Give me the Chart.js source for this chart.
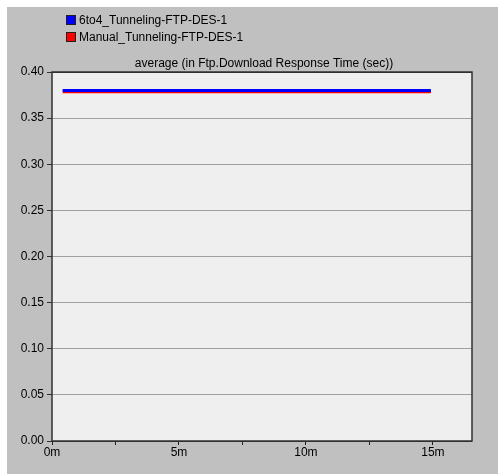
<!DOCTYPE html>
<html>
<head>
<meta charset="utf-8">
<script src="https://cdn.jsdelivr.net/npm/chart.js@4/dist/chart.umd.min.js"></script>
<style>
  html, body { margin: 0; padding: 0; background: #ffffff; }
  #wrap { width: 498px; height: 475px; position: relative; }
</style>
</head>
<body>
<div id="wrap"><canvas id="c" width="498" height="475"></canvas></div>
<script>
// Simulation time (minutes) at the start and end of each series
const timeMinutes = [0.42, 14.92];
// Average FTP download response time (sec)
const series6to4 = [0.3800, 0.3800];
const seriesManual = [0.3785, 0.3785];
const seriesNames = ['6to4_Tunneling-FTP-DES-1', 'Manual_Tunneling-FTP-DES-1'];
const seriesColors = ['#0000ff', '#ff0000'];
const chartTitle = 'average (in Ftp.Download Response Time (sec))';
const xTickLabels = { 0: '0m', 5: '5m', 10: '10m', 15: '15m' };

const FONT = '"Liberation Sans", Arial, sans-serif';

// Gray panel, plot background and plot frame
const framePlugin = {
  id: 'frame',
  beforeDraw(chart) {
    const ctx = chart.ctx;
    const a = chart.chartArea;
    ctx.save();
    ctx.fillStyle = '#ffffff';
    ctx.fillRect(0, 0, chart.width, chart.height);
    ctx.fillStyle = '#c0c0c0';
    ctx.fillRect(7, 7, chart.width - 7, 467);
    ctx.fillStyle = '#efefef';
    ctx.fillRect(a.left, a.top, a.right - a.left, a.bottom - a.top);
    ctx.restore();
  },
  afterDraw(chart) {
    const ctx = chart.ctx;
    const a = chart.chartArea;
    ctx.save();
    ctx.strokeStyle = '#303030';
    ctx.lineWidth = 1.5;
    ctx.strokeRect(a.left, a.top, a.right - a.left, a.bottom - a.top);
    // title
    ctx.fillStyle = '#000000';
    ctx.font = '12px ' + FONT;
    ctx.textAlign = 'center';
    ctx.textBaseline = 'alphabetic';
    ctx.fillText(chartTitle, (a.left + a.right) / 2 + 2, 67);
    // legend
    ctx.textAlign = 'left';
    ctx.textBaseline = 'middle';
    seriesNames.forEach((name, i) => {
      const y = 16 + i * 17;
      ctx.fillStyle = seriesColors[i];
      ctx.fillRect(67, y, 8, 8);
      ctx.strokeStyle = '#202020';
      ctx.lineWidth = 1;
      ctx.strokeRect(66.5, y - 0.5, 9, 9);
      ctx.fillStyle = '#000000';
      ctx.fillText(name, 79, y + 4.5);
    });
    ctx.restore();
  }
};

new Chart(document.getElementById('c'), {
  type: 'line',
  data: {
    datasets: [
      {
        label: seriesNames[0],
        data: timeMinutes.map((t, i) => ({ x: t, y: series6to4[i] })),
        borderColor: seriesColors[0],
        borderWidth: 3,
        borderCapStyle: 'butt',
        pointRadius: 0,
        tension: 0,
        order: 0
      },
      {
        label: seriesNames[1],
        data: timeMinutes.map((t, i) => ({ x: t, y: seriesManual[i] })),
        borderColor: seriesColors[1],
        borderWidth: 3,
        borderCapStyle: 'butt',
        pointRadius: 0,
        tension: 0,
        order: 1
      }
    ]
  },
  plugins: [framePlugin],
  options: {
    responsive: false,
    animation: false,
    devicePixelRatio: 1,
    layout: { padding: { left: 0, right: 26, top: 72, bottom: 0 } },
    plugins: {
      legend: { display: false },
      title: { display: false },
      tooltip: { enabled: false }
    },
    scales: {
      x: {
        type: 'linear',
        min: 0,
        max: 16.54,
        afterBuildTicks(scale) {
          const t = [];
          for (let v = 0; v <= 15; v += 2.5) t.push({ value: v });
          scale.ticks = t;
        },
        ticks: {
          autoSkip: false,
          maxRotation: 0,
          color: '#000000',
          font: { family: FONT, size: 12 },
          padding: 0,
          callback: (v) => xTickLabels[v] !== undefined ? xTickLabels[v] : ''
        },
        grid: {
          drawOnChartArea: false,
          drawTicks: true,
          tickLength: 4,
          color: '#202020'
        },
        border: { display: false },
        afterFit(scale) { scale.height = 34; }
      },
      y: {
        min: 0,
        max: 0.4,
        ticks: {
          stepSize: 0.05,
          color: '#000000',
          font: { family: FONT, size: 12 },
          padding: 3,
          callback: (v) => Number(v).toFixed(2)
        },
        grid: {
          color: (ctx) => (ctx.tick && (ctx.tick.value === 0 || Math.abs(ctx.tick.value - 0.4) < 1e-9)) ? '#303030' : '#a0a0a0',
          tickColor: '#303030',
          tickLength: 5,
          lineWidth: 1
        },
        border: { display: false },
        afterFit(scale) { scale.width = 52; }
      }
    }
  }
});
</script>
</body>
</html>
